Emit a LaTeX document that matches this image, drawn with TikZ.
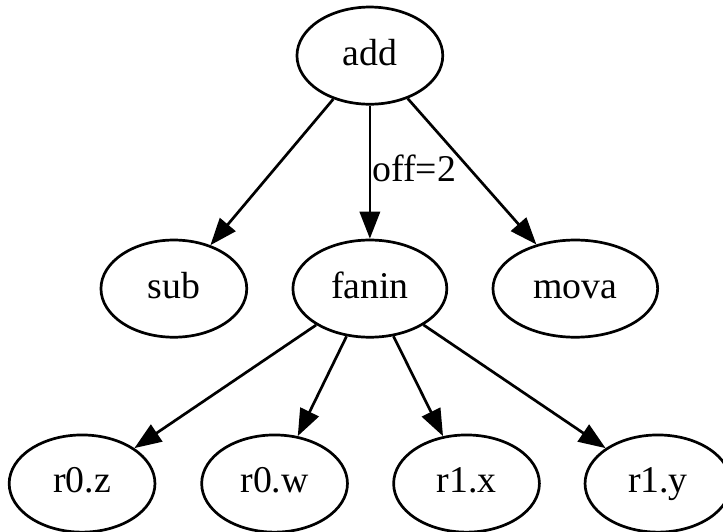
\documentclass[tikz,border=0pt]{standalone}
\usepackage{fontspec}
\setmainfont{Liberation Serif}
\usetikzlibrary{shapes.geometric,arrows.meta}
\begin{document}
\begin{tikzpicture}[
                x=1pt, y=1pt,
                >={Triangle[length=10pt, width=7.5pt]},
                line width=1pt,
                gvtext/.style={font=\fontsize{14}{16}\selectfont, text height=10pt, text depth=3pt},
                vertex/.style={draw, ellipse, inner sep=0pt, minimum width=54pt, minimum height=36pt, gvtext}
                ]

                \useasboundingbox (0,0) rectangle (267.8,-196.7);

                \node [vertex] (add) at (137.0,-20.6) {add};
                \node [vertex] (sub) at (64.4,-106.9) {sub};
                \node [vertex, minimum width=57pt] (fanin) at (137.0,-106.9) {fanin};
                \node [vertex, minimum width=61pt] (mova) at (213.1,-106.9) {mova};
                \node [vertex] (r0z) at (30.4,-179.1) {r0.z};
                \node [vertex] (r0w) at (101.7,-179.1) {r0.w};
                \node [vertex] (r1x) at (172.8,-179.1) {r1.x};
                \node [vertex] (r1y) at (243.7,-179.1) {r1.y};

                \draw[->] (add) -- (sub);
                \draw[->] (add) -- node[right, inner sep=0.5pt, gvtext]{off=2} (fanin);
                \draw[->] (add) -- (mova);
                \draw[->] (fanin) -- (r0z);
                \draw[->] (fanin) -- (r0w);
                \draw[->] (fanin) -- (r1x);
                \draw[->] (fanin) -- (r1y);
            \end{tikzpicture}
\end{document}
